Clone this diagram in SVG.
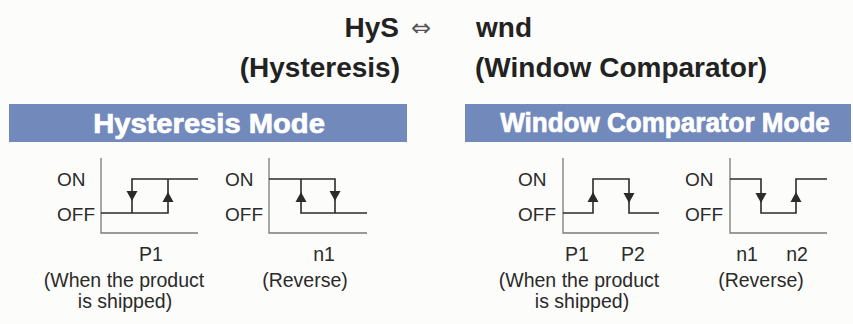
<svg xmlns="http://www.w3.org/2000/svg" width="853" height="324" viewBox="0 0 853 324">
  <style>
    .title { font-family: "Liberation Sans", Arial, sans-serif; font-weight: bold; font-size: 28px; fill: #222; }
    .banner { fill: #7189bb; }
    .btext { font-family: "Liberation Sans", Arial, sans-serif; font-weight: bold; font-size: 27px; fill: #ffffff; stroke: #ffffff; stroke-width: 0.7px; text-anchor: middle; }
    .lvl { font-family: "Liberation Sans", Arial, sans-serif; font-size: 19px; fill: #2a2a2a; }
    .cap { font-family: "Liberation Sans", Arial, sans-serif; font-size: 19.5px; fill: #2a2a2a; text-anchor: middle; }
    .axis { fill: none; stroke: #7a7a7a; stroke-width: 1.3; }
    .sig { fill: none; stroke: #2b2b2b; stroke-width: 1.6; }
    .arr { fill: #2b2b2b; }
  </style>
  <defs>
    <path id="down" d="M-5.5,0 L5.5,0 L0,10 Z"/>
    <path id="up" d="M-5.5,10 L5.5,10 L0,0 Z"/>
  </defs>
  <rect width="853" height="324" fill="#fcfcfa"/>

  <g id="title">
    <text class="title" x="399" y="37" text-anchor="end">HyS</text>
    <text x="421" y="36" text-anchor="middle" font-family="DejaVu Sans, sans-serif" font-size="24" fill="#555">⇔</text>
    <text class="title" x="476" y="37">wnd</text>
    <text class="title" x="400" y="77" text-anchor="end">(Hysteresis)</text>
    <text class="title" x="475" y="77">(Window Comparator)</text>
  </g>

  <g id="banner-hysteresis">
    <rect class="banner" x="9" y="104" width="398" height="38"/>
    <text class="btext" transform="translate(209,133) scale(1.08,1)" x="0" y="0">Hysteresis Mode</text>
  </g>
  <g id="banner-window">
    <rect class="banner" x="465" y="104" width="386" height="38"/>
    <text class="btext" transform="translate(665,132) scale(0.965,1)" x="0" y="0">Window Comparator Mode</text>
  </g>

  <g id="chart-hys-normal">
    <text class="lvl" x="57" y="186">ON</text>
    <text class="lvl" x="57" y="221">OFF</text>
    <path class="axis" d="M101,158 V233 H198"/>
    <path class="sig" d="M101,213 H168 V179 M132,213 V179 H198"/>
    <use href="#down" class="arr" x="132" y="191"/>
    <use href="#up" class="arr" x="168" y="192"/>
    <text class="cap" x="151" y="261">P1</text>
    <text class="cap" x="124" y="287">(When the product</text>
    <text class="cap" x="125" y="308">is shipped)</text>
  </g>

  <g id="chart-hys-reverse">
    <text class="lvl" x="225" y="186">ON</text>
    <text class="lvl" x="225" y="221">OFF</text>
    <path class="axis" d="M269,158 V233 H367"/>
    <path class="sig" d="M269,179 H335 V213 M301,179 V213 H367"/>
    <use href="#up" class="arr" x="301" y="192"/>
    <use href="#down" class="arr" x="335" y="191"/>
    <text class="cap" x="324" y="261">n1</text>
    <text class="cap" x="305" y="287">(Reverse)</text>
  </g>

  <g id="chart-wnd-normal">
    <text class="lvl" x="518" y="186">ON</text>
    <text class="lvl" x="518" y="221">OFF</text>
    <path class="axis" d="M563,158 V233 H659"/>
    <path class="sig" d="M563,213 H593 V179 H629 V213 H659"/>
    <use href="#up" class="arr" x="593" y="192"/>
    <use href="#down" class="arr" x="629" y="193"/>
    <text class="cap" x="577" y="261">P1</text>
    <text class="cap" x="633" y="261">P2</text>
    <text class="cap" x="579" y="287">(When the product</text>
    <text class="cap" x="582" y="308">is shipped)</text>
  </g>

  <g id="chart-wnd-reverse">
    <text class="lvl" x="685" y="186">ON</text>
    <text class="lvl" x="685" y="221">OFF</text>
    <path class="axis" d="M730,158 V233 H827"/>
    <path class="sig" d="M730,179 H761 V213 H796 V179 H827"/>
    <use href="#down" class="arr" x="761" y="193"/>
    <use href="#up" class="arr" x="796" y="192"/>
    <text class="cap" x="747" y="261">n1</text>
    <text class="cap" x="797" y="261">n2</text>
    <text class="cap" x="761" y="287">(Reverse)</text>
  </g>

  <g id="connectors"></g>
</svg>
